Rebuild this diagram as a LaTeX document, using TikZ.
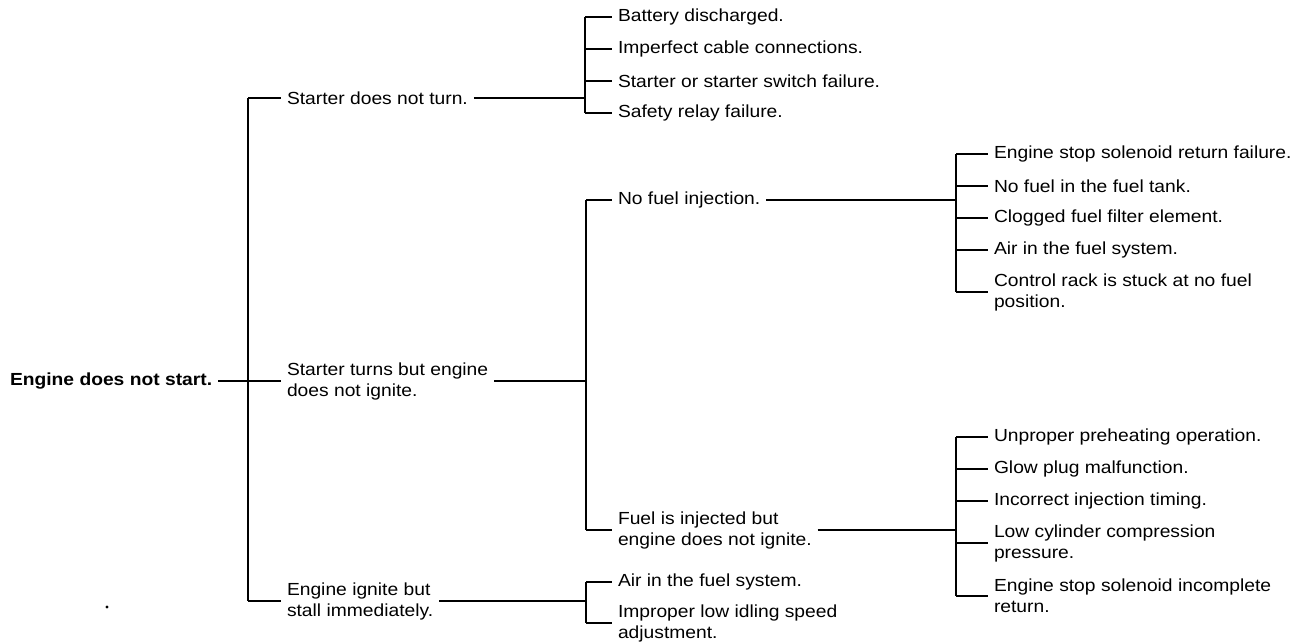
\documentclass[tikz,border=0pt]{standalone}
\usepackage{fontspec}
\setmainfont{Liberation Sans}[FakeStretch=1.1]
\begin{document}
\begin{tikzpicture}[x=1pt,y=-1pt,
  txt/.style={font=\fontsize{17.5}{21}\selectfont, inner sep=0pt, outer xsep=6pt, anchor=west, align=left},
  ln/.style={line width=1.8pt}]
\useasboundingbox (0,0) rectangle (1312,641);
% level 0
\node[txt, font=\fontsize{17.5}{21}\selectfont\bfseries] (root) at (4,381) {Engine does not start.};
\coordinate (m) at (248,381);
% level 1
\node[txt] (s1) at (281,98) {Starter does not turn.};
\node[txt] (s2) at (281,381) {Starter turns but engine\\does not ignite.};
\node[txt] (s3) at (281,601) {Engine ignite but\\stall immediately.};
% level 2
\coordinate (ba) at (585,98);
\coordinate (bb) at (586,381);
\coordinate (bd) at (586,601);
\node[txt] (a1) at (612,17) {Battery discharged.};
\node[txt] (a2) at (612,49) {Imperfect cable connections.};
\node[txt] (a3) at (612,81) {Starter or starter switch failure.};
\node[txt] (a4) at (612,113) {Safety relay failure.};
\node[txt] (n1) at (612,200) {No fuel injection.};
\node[txt] (n2) at (612,530) {Fuel is injected but\\engine does not ignite.};
\node[txt] (d1) at (612,582) {Air in the fuel system.};
\node[txt] (d2) at (612,623) {Improper low idling speed\\adjustment.};
% level 3
\coordinate (bn) at (956,200);
\coordinate (bf) at (956,530);
\node[txt] (p1) at (988,154) {Engine stop solenoid return failure.};
\node[txt] (p2) at (988,186) {No fuel in the fuel tank.};
\node[txt] (p3) at (988,218) {Clogged fuel filter element.};
\node[txt] (p4) at (988,250) {Air in the fuel system.};
\node[txt] (p5) at (988,292) {Control rack is stuck at no fuel\\position.};
\node[txt] (q1) at (988,437) {Unproper preheating operation.};
\node[txt] (q2) at (988,469) {Glow plug malfunction.};
\node[txt] (q3) at (988,501) {Incorrect injection timing.};
\node[txt] (q4) at (988,543) {Low cylinder compression\\pressure.};
\node[txt] (q5) at (988,596) {Engine stop solenoid incomplete\\return.};
% dot
\fill (107,607) circle (1.6);
% connectors
\draw[ln] (root.east) -- (m);
\draw[ln] (s1.west -| m) -- (s3.west -| m);
\foreach \n in {s1,s2,s3} \draw[ln] (\n.west -| m) -- (\n.west);
\draw[ln] (s1.east) -- (ba);
\draw[ln] (s2.east) -- (s2.east -| bb);
\draw[ln] (s3.east) -- (s3.east -| bd);
\draw[ln] (a1.west -| ba) -- (a4.west -| ba);
\foreach \n in {a1,a2,a3,a4} \draw[ln] (\n.west -| ba) -- (\n.west);
\draw[ln] (n1.west -| bb) -- (n2.west -| bb);
\foreach \n in {n1,n2} \draw[ln] (\n.west -| bb) -- (\n.west);
\draw[ln] (d1.west -| bd) -- (d2.west -| bd);
\foreach \n in {d1,d2} \draw[ln] (\n.west -| bd) -- (\n.west);
\draw[ln] (n1.east) -- (bn);
\draw[ln] (n2.east) -- (bf);
\draw[ln] (p1.west -| bn) -- (p5.west -| bn);
\foreach \n in {p1,p2,p3,p4,p5} \draw[ln] (\n.west -| bn) -- (\n.west);
\draw[ln] (q1.west -| bf) -- (q5.west -| bf);
\foreach \n in {q1,q2,q3,q4,q5} \draw[ln] (\n.west -| bf) -- (\n.west);
\end{tikzpicture}
\end{document}
